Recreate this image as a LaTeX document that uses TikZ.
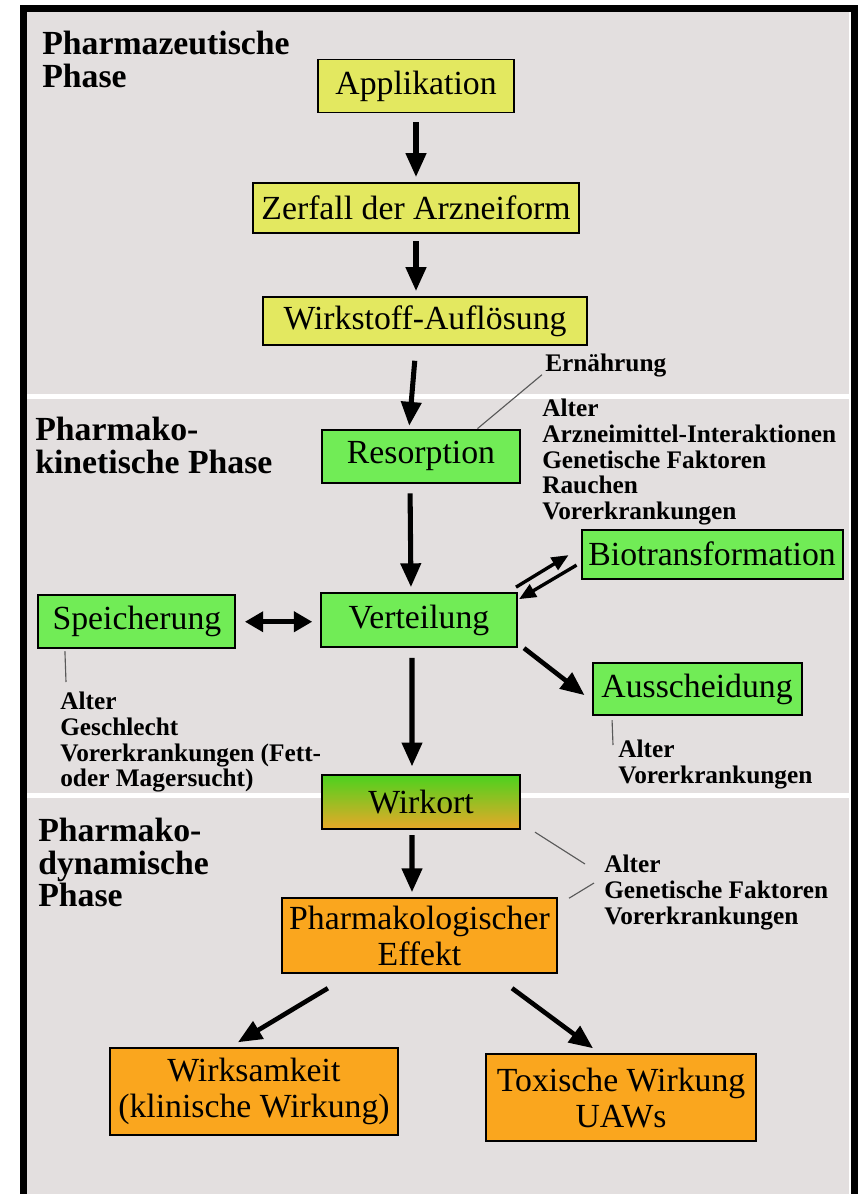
\documentclass[tikz,border=0pt]{standalone}
\usepackage{fontspec}
\setmainfont{Liberation Serif}
\usepackage{xcolor}
\usepackage{tikz}
\usetikzlibrary{arrows.meta, positioning}

\definecolor{bgpanel}{RGB}{227,223,223}
\definecolor{yelbox}{RGB}{227,232,96}
\definecolor{grnbox}{RGB}{113,236,86}
\definecolor{orgbox}{RGB}{250,166,30}
\definecolor{wirkgrn}{RGB}{76,210,30}
\definecolor{wirkmid}{RGB}{200,186,38}
\definecolor{wirkorg}{RGB}{233,168,40}

\begin{document}
\begin{tikzpicture}[
    x=0.025cm, y=-0.025cm,
    node distance=3cm,
    box/.style={rectangle, draw, line width=1.4pt, inner sep=0pt, align=center, font=\fontsize{24}{25.5}\selectfont},
    factor/.style={anchor=north west, inner sep=0pt, align=left, font=\fontsize{18}{18.2}\selectfont\bfseries},
    phase/.style={anchor=north west, inner sep=0pt, align=left, font=\fontsize{24}{23}\selectfont\bfseries},
    arrow/.style={-{Triangle[length=17pt, width=14pt]}, line width=3.6pt},
    dblarrow/.style={{Triangle[length=13pt, width=14pt]}-{Triangle[length=13pt, width=14pt]}, line width=3.6pt},
    smallarrow/.style={-{Triangle[length=12pt, width=10pt]}, line width=2.4pt},
    hint/.style={draw=black!65, line width=0.8pt}
]

% Background panel and frame
\fill [white] (0,0) rectangle (859,1194);
\useasboundingbox (0,0) rectangle (859,1194);
\fill [bgpanel] (27,12) rectangle (849,1194);
\fill [white] (27,394) rectangle (849,399);
\fill [white] (27,793) rectangle (849,798);
\draw [line width=5pt] (23.5,1194) -- (23.5,8.5) -- (854.5,8.5) -- (854.5,1194);

% Phase titles
\node [phase] (phase1) at (42,31) {Pharmazeutische\\Phase};
\node [phase] (phase2) at (35,417) {Pharmako-\\kinetische Phase};
\node [phase] (phase3) at (38,818) {Pharmako-\\dynamische\\Phase};

% Pharmaceutical phase
\node [box, fill=yelbox, minimum width=4.9cm, minimum height=1.325cm] (appl) at (416,86) {Applikation};
\node [box, fill=yelbox, below of=appl, yshift=-0.05cm, minimum width=8.125cm, minimum height=1.25cm] (zerfall) {Zerfall der Arzneiform};
\node [box, fill=yelbox, below of=zerfall, xshift=0.225cm, yshift=0.175cm, minimum width=8.1cm, minimum height=1.2cm] (aufloesung) {Wirkstoff-Auflösung};

% Pharmacokinetic phase
\node [box, fill=grnbox, below of=aufloesung, xshift=-0.1cm, yshift=-0.375cm, minimum width=4.925cm, minimum height=1.325cm] (resorption) {Resorption};
\node [box, fill=grnbox, below of=resorption, xshift=-0.05cm, yshift=-1.1cm, minimum width=4.9cm, minimum height=1.35cm] (verteilung) {Verteilung};
\node [box, fill=grnbox, left of=verteilung, xshift=-4.05cm, yshift=-0.04cm, minimum width=4.925cm, minimum height=1.325cm] (speicherung) {Speicherung};
\node [box, fill=grnbox, right of=verteilung, xshift=4.325cm, yshift=1.65cm, minimum width=6.525cm, minimum height=1.225cm] (biotrans) {Biotransformation};
\node [box, fill=grnbox, right of=verteilung, xshift=3.95cm, yshift=-1.725cm, minimum width=5.225cm, minimum height=1.3cm] (ausscheidung) {Ausscheidung};

% Pharmacodynamic phase
\node [box, below of=verteilung, xshift=0.05cm, yshift=-1.55cm, top color=wirkgrn, middle color=wirkmid, bottom color=wirkorg, minimum width=4.925cm, minimum height=1.35cm] (wirkort) {Wirkort};
\node [box, fill=orgbox, below of=wirkort, xshift=-0.0375cm, yshift=-0.3375cm, minimum width=6.875cm, minimum height=1.875cm] (effekt) {Pharmakologischer\\Effekt};
\node [box, fill=orgbox, below of=effekt, xshift=-4.1375cm, yshift=-0.9cm, minimum width=7.2cm, minimum height=2.175cm] (wirksam) {Wirksamkeit\\(klinische Wirkung)};
\node [box, fill=orgbox, below of=effekt, xshift=5.0375cm, yshift=-1.05cm, minimum width=6.75cm, minimum height=2.175cm] (toxisch) {Toxische Wirkung\\UAWs};

% Influencing factors
\node [factor] (ernaehrung) at (545,354) {Ernährung};
\node [factor] (resfaktoren) at (542,399) {Alter\\Arzneimittel-Interaktionen\\Genetische Faktoren\\Rauchen\\Vorerkrankungen};
\node [factor] (speicherfaktoren) at (60,692) {Alter\\Geschlecht\\Vorerkrankungen (Fett-\\oder Magersucht)};
\node [factor] (ausfaktoren) at (618,740) {Alter\\Vorerkrankungen};
\node [factor] (wirkfaktoren) at (604,855) {Alter\\Genetische Faktoren\\Vorerkrankungen};

% Main flow arrows
\draw [arrow, shorten <=6.4pt, shorten >=3.5pt] (appl.south) -- (appl.south |- zerfall.north);
\draw [arrow, shorten <=5pt, shorten >=3.5pt] (zerfall.south) -- (zerfall.south |- aufloesung.north);
\draw [arrow, shorten <=10.5pt, shorten >=2pt] ([xshift=-0.225cm]aufloesung.south) -- ([xshift=-0.3cm]resorption.north);
\draw [arrow, shorten <=7pt, shorten >=3.5pt] ([xshift=-0.275cm]resorption.south) -- ([xshift=-0.2cm]verteilung.north);
\draw [arrow, shorten <=7pt, shorten >=5.5pt] ([xshift=-0.175cm]verteilung.south) -- ([xshift=-0.225cm]wirkort.north);
\draw [arrow, shorten <=3.5pt, shorten >=3.5pt] ([xshift=-0.225cm]wirkort.south) -- ([xshift=-0.1875cm]effekt.north);

% Distribution arrows
\draw [dblarrow, shorten <=6pt, shorten >=5.5pt] (speicherung.east) -- (speicherung.east -| verteilung.west);
\draw [smallarrow] ([xshift=-0.05cm, yshift=0.125cm]verteilung.north east) -- ([xshift=-0.3cm, yshift=-0.025cm]biotrans.west);
\draw [smallarrow] ([xshift=-0.1cm, yshift=-0.275cm]biotrans.west) -- ([xshift=0.025cm, yshift=-0.175cm]verteilung.north east);
\draw [arrow, line width=3.3pt] ([xshift=0.15cm]verteilung.south east) -- ([xshift=-0.175cm, yshift=-0.15cm]ausscheidung.west);

% Effect arrows
\draw [arrow, line width=3.3pt] ([xshift=-2.29cm, yshift=-0.35cm]effekt.south) -- ([xshift=-0.4cm, yshift=0.125cm]wirksam.north);
\draw [arrow, line width=3.3pt] ([xshift=2.3125cm, yshift=-0.35cm]effekt.south) -- ([xshift=-0.7cm, yshift=0.125cm]toxisch.north);

% Factor lines
\draw [hint] ([xshift=-1.075cm]resorption.north east) -- ([xshift=-0.075cm, yshift=0.075cm]ernaehrung.south west);
\draw [hint] ([xshift=0.6875cm, yshift=-0.05cm]speicherung.south west) -- ([xshift=0.15cm, yshift=0.25cm]speicherfaktoren.north west);
\draw [hint] ([xshift=0.5125cm, yshift=-0.1cm]ausscheidung.south west) -- ([xshift=-0.125cm, yshift=-0.125cm]ausfaktoren.north west);
\draw [hint] ([xshift=0.3625cm, yshift=-0.05cm]wirkort.south east) -- ([xshift=-0.475cm, yshift=-0.225cm]wirkfaktoren.north west);
\draw [hint] ([xshift=0.275cm, yshift=-0.025cm]effekt.north east) -- ([xshift=-0.25cm, yshift=-0.7cm]wirkfaktoren.north west);

\end{tikzpicture}
\end{document}
